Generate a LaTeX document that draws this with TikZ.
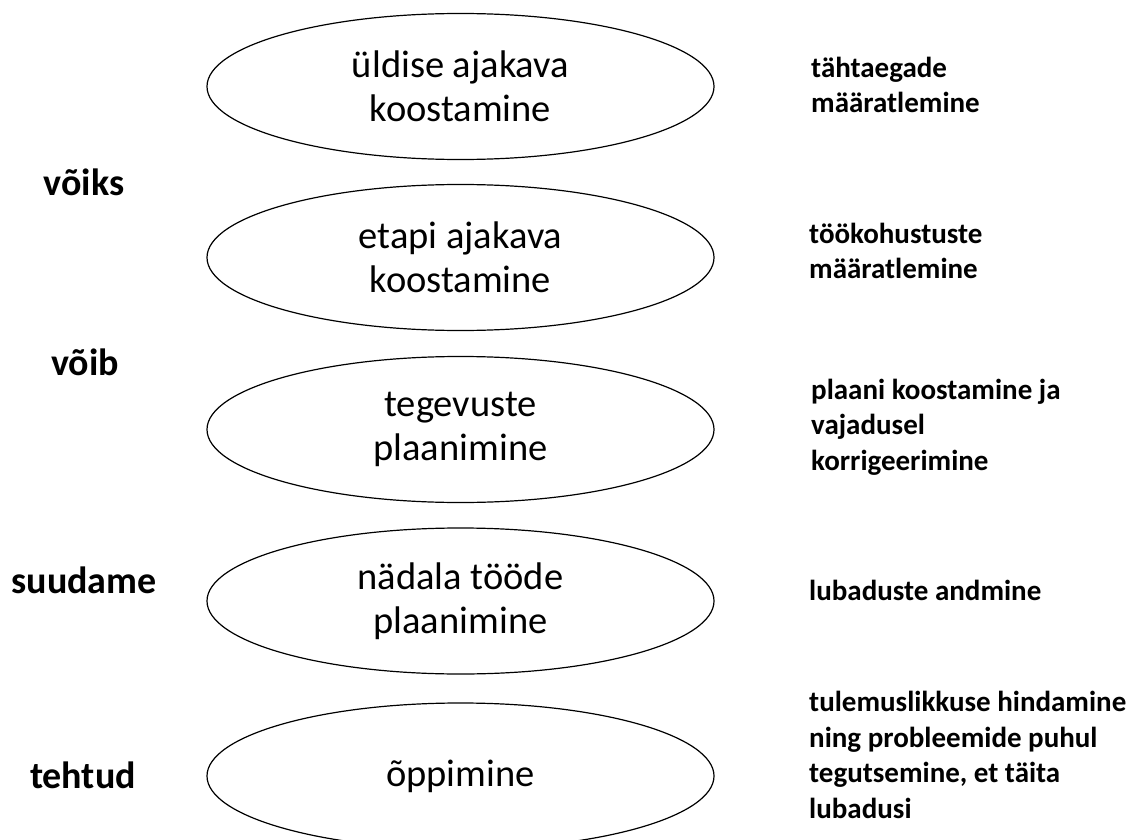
\documentclass[tikz,border=0pt]{standalone}
\usepackage{fontspec}
\setmainfont{Carlito}
\usetikzlibrary{shapes.geometric}
\tikzset{
  stage/.style={draw=black, line width=1.2pt, ellipse, minimum width=507pt, minimum height=146pt, inner sep=0pt,
    align=center, font=\fontsize{38.5}{44}\selectfont},
  level/.style={font=\bfseries\fontsize{38}{44}\selectfont, anchor=center},
  note/.style={font=\bfseries\fontsize{29}{35.5}\selectfont, anchor=west, align=left, inner sep=0pt}
}
\begin{document}
\begin{tikzpicture}[x=1pt,y=-1pt]
\useasboundingbox (0,0) rectangle (1135,840);
\clip (0,0) rectangle (1135,840);
\node[stage] (e1) at (460.5,86.5) {üldise ajakava\\koostamine};
\node[stage] (e2) at (460.5,257.5) {etapi ajakava\\koostamine};
\node[stage] (e3) at (460.5,429.5) {tegevuste\\plaanimine};
\node[stage] (e4) at (460.5,601) {nädala tööde\\plaanimine};
\node[stage] (e5) at (460.5,776) {õppimine};
\node[level] (l1) at (84,182) {võiks};
\node[level] (l2) at (85,362) {võib};
\node[level] (l3) at (84,580) {suudame};
\node[level] (l4) at (83,775) {tehtud};
\node[note] (r1) at (811,85) {tähtaegade\\määratlemine};
\node[note] (r2) at (809,251) {töökohustuste\\määratlemine};
\node[note] (r3) at (811,427) {plaani koostamine ja\\vajadusel\\korrigeerimine};
\node[note] (r4) at (809,590) {lubaduste andmine};
\node[note] (r5) at (809,755) {tulemuslikkuse hindamine\\ning probleemide puhul\\tegutsemine, et täita\\lubadusi};
\end{tikzpicture}
\end{document}
